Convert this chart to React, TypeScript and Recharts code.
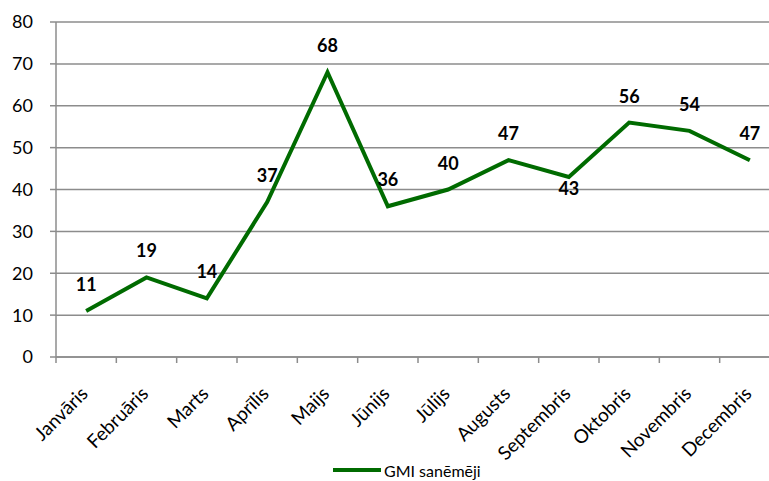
import { CartesianGrid, LabelList, Legend, Line, LineChart, XAxis, YAxis } from 'recharts';

const months = ['Janvāris', 'Februāris', 'Marts', 'Aprīlis', 'Maijs', 'Jūnijs', 'Jūlijs', 'Augusts', 'Septembris', 'Oktobris', 'Novembris', 'Decembris'];
const recipients = [11, 19, 14, 37, 68, 36, 40, 47, 43, 56, 54, 47];
const yTicks = [0, 10, 20, 30, 40, 50, 60, 70, 80];
const seriesName = 'GMI sanēmēji';

const data = months.map((name, i) => ({ name, value: recipients[i] }));

const font = 'Lato, "Open Sans", sans-serif';
const axisGray = '#8c8c8c';
const green = '#006b00';
const CHART_W = 790;
const PLOT_LEFT = 56;
const PLOT_RIGHT = 780;
const BAND = (PLOT_RIGHT - PLOT_LEFT) / months.length;

function MonthTick({ x, y, payload }: any) {
  const axisY = y - 8;
  return (
    <g>
      <line x1={x - BAND / 2} x2={x - BAND / 2} y1={axisY} y2={axisY + 6} stroke={axisGray} strokeWidth={1.5} />
      <g transform={`translate(${x + 3}, ${axisY + 38})`}>
        <text x={0} y={0} textAnchor="end" fontSize={19} fontFamily={font} fill="#000" transform="rotate(-45)">
          {payload.value}
        </text>
      </g>
    </g>
  );
}

function PointLabel({ x, y, value, index }: any) {
  const below = index === 8;
  return (
    <text
      x={x}
      y={below ? y + 18 : y - 20}
      textAnchor="middle"
      fontSize={18}
      fontWeight={700}
      fontFamily={font}
      fill="#000"
    >
      {value}
    </text>
  );
}

function LegendContent() {
  return (
    <div style={{ display: 'flex', alignItems: 'center', height: 28, fontFamily: font, fontSize: 16, color: '#000' }}>
      <svg width={52} height={10}>
        <line x1={1} x2={49} y1={5} y2={5} stroke={green} strokeWidth={4} />
      </svg>
      <span>{seriesName}</span>
    </div>
  );
}

export default function App() {
  return (
    <div style={{ position: 'absolute', left: 0, top: 0, width: 769, height: 481, overflow: 'hidden', background: '#fff' }}>
      <LineChart width={CHART_W} height={481} data={data} margin={{ top: 22, right: CHART_W - PLOT_RIGHT, bottom: 0, left: 0 }}>
        <CartesianGrid vertical={false} stroke={axisGray} strokeWidth={1.5} />
        <XAxis
          dataKey="name"
          scale="band"
          interval={0}
          tickLine={false}
          axisLine={{ stroke: axisGray, strokeWidth: 1.5 }}
          height={96}
          tick={<MonthTick />}
        />
        <YAxis
          width={PLOT_LEFT}
          domain={[0, 80]}
          ticks={yTicks}
          interval={0}
          tickSize={6}
          tickMargin={17}
          tickLine={{ stroke: axisGray, strokeWidth: 1.5 }}
          axisLine={{ stroke: axisGray, strokeWidth: 1.5 }}
          tick={{ fontSize: 18, fill: '#000', fontFamily: font }}
        />
        <Legend
          verticalAlign="bottom"
          content={<LegendContent />}
          wrapperStyle={{ left: 332, top: 456, width: 220 }}
        />
        <Line
          type="linear"
          dataKey="value"
          name={seriesName}
          stroke={green}
          strokeWidth={4}
          dot={false}
          isAnimationActive={false}
        >
          <LabelList dataKey="value" content={<PointLabel />} />
        </Line>
      </LineChart>
    </div>
  );
}
